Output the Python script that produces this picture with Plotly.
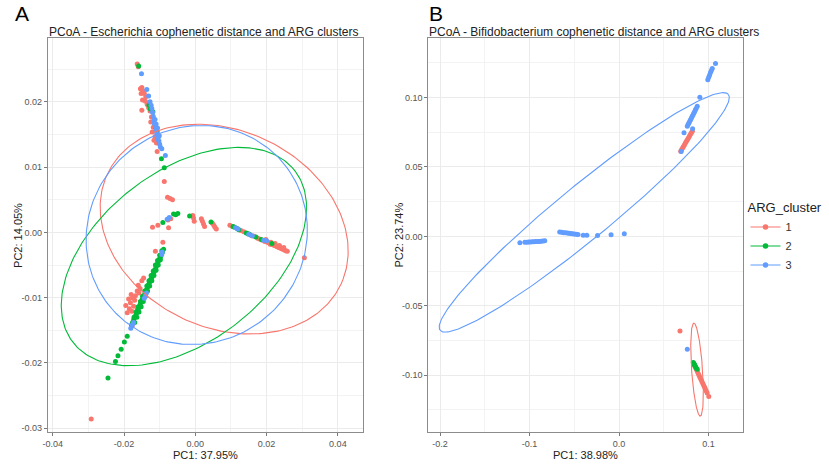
import numpy as np
import plotly.graph_objects as go

W, H = 829, 465
RED, GREEN, BLUE = "#F8766D", "#00BA38", "#619CFF"
FONT = "Liberation Sans, Arial, sans-serif"

# ---------------- Panel A: Escherichia ----------------
a_red_x = [-0.0163, -0.0160, -0.0154, -0.0150, -0.0147, -0.0152, -0.0143, -0.0139, -0.0148, -0.0140,
           -0.0150, -0.0135, -0.0131, -0.0127, -0.0123, -0.0125, -0.0118, -0.0121, -0.0113, -0.0116,
           -0.0109, -0.0107, -0.0087, -0.0078, -0.0071, -0.0064,
           -0.0120, -0.0105, -0.0075, -0.0077, -0.0069, -0.0091, -0.0112, -0.0007, -0.0005, -0.0003,
           0.0017, 0.0020, 0.0023, 0.0026, 0.0048, 0.0052, 0.0055, 0.0059, 0.0097,
           0.0104, 0.0128, 0.0136, 0.0158, 0.0165, 0.0175, 0.0180, 0.0188, 0.0195, 0.0202,
           0.0206, 0.0210, 0.0214, 0.0218, 0.0222, 0.0226, 0.0230, 0.0234, 0.0238, 0.0242,
           0.0246, 0.0250, 0.0254, 0.0258, 0.0212, 0.0224, 0.0236, 0.0248, 0.0198, 0.0306,
           -0.0150, -0.0163, -0.0168, -0.0187, -0.0173, -0.0163, -0.0191, -0.0180, -0.0176, -0.0182,
           -0.0170, -0.0158, -0.0155, -0.0160, -0.0185, -0.0178, -0.0195, -0.0177, -0.0145, -0.0292]
a_red_y = [0.0258, 0.0254, 0.0220, 0.0222, 0.0217, 0.0213, 0.0213, 0.0208, 0.0203, 0.0201,
           0.0187, 0.0196, 0.0191, 0.0186, 0.0177, 0.0169, 0.0161, 0.0154, 0.0147, 0.0141,
           0.0137, 0.0124, 0.0078, 0.0054, 0.0052, 0.0050,
           0.0008, 0.0011, 0.0007, 0.0019, 0.0021, -0.0015, -0.0029, 0.0026, 0.0022, 0.0017,
           0.0021, 0.0017, 0.0013, 0.0009, 0.0014, 0.0011, 0.0008, 0.0005, 0.0011,
           0.0009, 0.0003, 0.0001, -0.0005, -0.0006, -0.0009, -0.0010, -0.0012, -0.0014, -0.0015,
           -0.0016, -0.0018, -0.0018, -0.0019, -0.0020, -0.0021, -0.0022, -0.0023, -0.0024, -0.0025,
           -0.0026, -0.0027, -0.0028, -0.0029, -0.0015, -0.0017, -0.0020, -0.0023, -0.0011, -0.0039,
           -0.0074, -0.0090, -0.0097, -0.0102, -0.0113, -0.0118, -0.0123, -0.0095, -0.0100, -0.0108,
           -0.0104, -0.0093, -0.0086, -0.0081, -0.0117, -0.0121, -0.0112, -0.0143, -0.0070, -0.0286]

a_green_x = [-0.0159, -0.0130, -0.0126, -0.0119, -0.0112, -0.0107, -0.0095, -0.0087,
             -0.0061, -0.0055, -0.0049, -0.0091, -0.0016, 0.0044,
             0.0106, 0.0110, 0.0117, 0.0122, 0.0143, 0.0148, 0.0152, 0.0170, 0.0185, 0.0215,
             -0.0089, -0.0092, -0.0095, -0.0098, -0.0101, -0.0104, -0.0107, -0.0110, -0.0113, -0.0116,
             -0.0119, -0.0122, -0.0125, -0.0128, -0.0131, -0.0134, -0.0137, -0.0140, -0.0143, -0.0146,
             -0.0149, -0.0152, -0.0155, -0.0158, -0.0161, -0.0164, -0.0167, -0.0170, -0.0173, -0.0176,
             -0.0179,
             -0.0094, -0.0100, -0.0106, -0.0112, -0.0118, -0.0124, -0.0130, -0.0136, -0.0142, -0.0148,
             -0.0154, -0.0160, -0.0166, -0.0172,
             -0.0098, -0.0104, -0.0110, -0.0116, -0.0122, -0.0128, -0.0134, -0.0140, -0.0146, -0.0152,
             -0.0158, -0.0164, -0.0170,
             -0.0191, -0.0199, -0.0208, -0.0217, -0.0224, -0.0245]
a_green_y = [0.0255, 0.0195, 0.0189, 0.0185, 0.0162, 0.0154, 0.0113, 0.0099,
             0.0028, 0.0027, 0.0029, 0.0015, 0.0025, 0.0016,
             0.0009, 0.0008, 0.0006, 0.0004, -0.0001, -0.0002, -0.0003, -0.0007, -0.0011, -0.0017,
             -0.0026, -0.0030, -0.0034, -0.0038, -0.0041, -0.0045, -0.0049, -0.0053, -0.0057, -0.0061,
             -0.0065, -0.0069, -0.0072, -0.0076, -0.0080, -0.0084, -0.0088, -0.0092, -0.0096, -0.0100,
             -0.0103, -0.0107, -0.0111, -0.0115, -0.0119, -0.0123, -0.0127, -0.0130, -0.0134, -0.0138,
             -0.0142,
             -0.0028, -0.0035, -0.0043, -0.0050, -0.0059, -0.0066, -0.0074, -0.0082, -0.0090, -0.0098,
             -0.0106, -0.0114, -0.0122, -0.0130,
             -0.0042, -0.0050, -0.0058, -0.0066, -0.0074, -0.0082, -0.0090, -0.0098, -0.0106, -0.0114,
             -0.0122, -0.0130, -0.0138,
             -0.0159, -0.0168, -0.0179, -0.0189, -0.0198, -0.0223]

a_blue_x = [-0.0151, -0.0136, -0.0131, -0.0127, -0.0124, -0.0122, -0.0120, -0.0118, -0.0116, -0.0115,
            -0.0112, -0.0110, -0.0108, -0.0104, -0.0102, -0.0100, -0.0098, -0.0094, -0.0084, -0.0113,
            -0.0110, -0.0106, -0.0105, -0.0101,
            -0.0079, -0.0073,
            0.0113, 0.0120, 0.0150, 0.0160, 0.0192, 0.0200,
            -0.0094, -0.0093, -0.0140, -0.0137, -0.0143, -0.0173, -0.0176, -0.0181]
a_blue_y = [0.0243, 0.0219, 0.0209, 0.0200, 0.0195, 0.0190, 0.0184, 0.0178, 0.0172, 0.0167,
            0.0162, 0.0157, 0.0152, 0.0146, 0.0140, 0.0135, 0.0131, 0.0128, 0.0118, 0.0173,
            0.0166, 0.0160, 0.0143, 0.0148,
            0.0020, 0.0023,
            0.0007, 0.0005, -0.0003, -0.0005, -0.0012, -0.0013,
            -0.0034, -0.0030, -0.0097, -0.0093, -0.0101, -0.0138, -0.0141, -0.0147]

# 95% ellipses per cluster: centre and two conjugate semi-axis vectors (PC1, PC2)
a_ell_center = {"1": (0.0081, 0.0005), "2": (-0.0032, -0.0037), "3": (0.0004, -0.0004)}
a_ell_u = {"1": (0.0328, -0.0084), "2": (0.0312, 0.0131), "3": (0.0261, 0.0097)}
a_ell_v = {"1": (-0.0116, -0.0137), "2": (0.0145, -0.0104), "3": (0.0168, -0.0137)}

# ---------------- Panel B: Bifidobacterium ----------------
b_red_x = [0.0689, 0.0700, 0.0710, 0.0720, 0.0730, 0.0740, 0.0750, 0.0760, 0.0770, 0.0780,
           0.0790, 0.0800, 0.0810, 0.0819,
           0.0681, 0.0837, 0.0845, 0.0855, 0.0865, 0.0875, 0.0885, 0.0895, 0.0905, 0.0915,
           0.0925, 0.0935, 0.0945, 0.0955, 0.0965, 0.0975, 0.0985, 0.1003]
b_red_y = [0.0614, 0.0626, 0.0637, 0.0648, 0.0659, 0.0671, 0.0682, 0.0693, 0.0704, 0.0715,
           0.0726, 0.0737, 0.0748, 0.0758,
           -0.0681, -0.0921, -0.0932, -0.0946, -0.0960, -0.0974, -0.0988, -0.1002, -0.1016, -0.1030,
           -0.1044, -0.1058, -0.1072, -0.1086, -0.1100, -0.1114, -0.1128, -0.1153]

b_green_x = [0.0830, 0.0836, 0.0842, 0.0848, 0.0856, 0.0864, 0.0874]
b_green_y = [-0.0909, -0.0916, -0.0924, -0.0932, -0.0940, -0.0950, -0.0957]

b_blue_x = [-0.1108, -0.1052, -0.1030, -0.1010, -0.0990, -0.0970, -0.0950, -0.0930, -0.0910, -0.0890,
            -0.0870, -0.0850, -0.0830,
            -0.0663, -0.0640, -0.0620, -0.0600, -0.0580, -0.0560, -0.0540, -0.0520, -0.0500, -0.0480,
            -0.0459, -0.0400, -0.0360, -0.0240, -0.0089, 0.0059,
            0.0763, 0.0772, 0.0781, 0.0790, 0.0799, 0.0808, 0.0817, 0.0826, 0.0835, 0.0844,
            0.0853, 0.0862, 0.0874, 0.0903, 0.0726, 0.0822, 0.0695,
            0.0992, 0.1002, 0.1012, 0.1022, 0.1032, 0.1042, 0.1078,
            0.0763]
b_blue_y = [-0.0045, -0.0043, -0.0042, -0.0041, -0.0040, -0.0039, -0.0038, -0.0037, -0.0036, -0.0036,
            -0.0035, -0.0034, -0.0032,
            0.0031, 0.0029, 0.0027, 0.0026, 0.0024, 0.0022, 0.0020, 0.0019, 0.0017, 0.0016,
            0.0014, 0.0009, 0.0009, 0.0007, 0.0012, 0.0019,
            0.0794, 0.0806, 0.0817, 0.0829, 0.0840, 0.0852, 0.0864, 0.0875, 0.0887, 0.0898,
            0.0910, 0.0921, 0.0937, 0.1002, 0.0746, 0.0775, 0.0612,
            0.1129, 0.1146, 0.1163, 0.1180, 0.1195, 0.1210, 0.1245,
            -0.0813]

b_ell_center = {"1": (0.0872, -0.0960), "3": (-0.0389, 0.0173)}
b_ell_u = {"1": (-0.0036, 0.0335), "3": (0.161, 0.0850)}
b_ell_v = {"1": (0.0061, 0.0003), "3": (0.0188, -0.0149)}

# axis ticks
a_xticks = [-0.04, -0.02, 0.0, 0.02, 0.04]
a_xlabels = ["-0.04", "-0.02", "0.00", "0.02", "0.04"]
a_yticks = [-0.03, -0.02, -0.01, 0.0, 0.01, 0.02]
a_ylabels = ["-0.03", "-0.02", "-0.01", "0.00", "0.01", "0.02"]
b_xticks = [-0.2, -0.1, 0.0, 0.1]
b_xlabels = ["-0.2", "-0.1", "0.0", "0.1"]
b_yticks = [-0.10, -0.05, 0.0, 0.05, 0.10]
b_ylabels = ["-0.10", "-0.05", "0.00", "0.05", "0.10"]

colors = {"1": RED, "2": GREEN, "3": BLUE}


def ellipse(center, u, v, n=241):
    t = np.linspace(0, 2 * np.pi, n)
    x = center[0] + u[0] * np.cos(t) + v[0] * np.sin(t)
    y = center[1] + u[1] * np.cos(t) + v[1] * np.sin(t)
    return x, y


fig = go.Figure()

panel_a = {"1": (a_red_x, a_red_y), "2": (a_green_x, a_green_y), "3": (a_blue_x, a_blue_y)}
panel_b = {"1": (b_red_x, b_red_y), "2": (b_green_x, b_green_y), "3": (b_blue_x, b_blue_y)}

for panel, (xa, ya), centers, us, vs in [
    (panel_a, ("x", "y"), a_ell_center, a_ell_u, a_ell_v),
    (panel_b, ("x2", "y2"), b_ell_center, b_ell_u, b_ell_v),
]:
    for k in ["1", "2", "3"]:
        px_, py_ = panel[k]
        fig.add_trace(go.Scatter(x=px_, y=py_, mode="markers", xaxis=xa, yaxis=ya,
                                 marker=dict(color=colors[k], size=5, line=dict(width=0)),
                                 showlegend=False, hoverinfo="skip"))
    for k in ["1", "2", "3"]:
        if k in centers:
            ex, ey = ellipse(centers[k], us[k], vs[k])
            fig.add_trace(go.Scatter(x=ex, y=ey, mode="lines", xaxis=xa, yaxis=ya,
                                     line=dict(color=colors[k], width=1.1),
                                     showlegend=False, hoverinfo="skip"))

# legend entries (point + line key)
for k in ["1", "2", "3"]:
    fig.add_trace(go.Scatter(x=[None], y=[None], mode="lines+markers", name=k,
                             xaxis="x2", yaxis="y2",
                             line=dict(color=colors[k], width=1.1),
                             marker=dict(color=colors[k], size=5.5)))

A_X = [43 / W, 360 / W]
B_X = [426 / W, 742 / W]
P_Y = [1 - 433 / H, 1 - 38 / H]

axis_common = dict(showline=True, mirror=True, linecolor="#8c8c8c", linewidth=1,
                   ticks="outside", ticklen=3, tickcolor="#7a7a7a", tickwidth=1,
                   tickfont=dict(family=FONT, size=9, color="#555555"),
                   showgrid=True, gridcolor="#ebebeb", gridwidth=1, zeroline=False,
                   tickmode="array")

fig.update_layout(
    width=W, height=H, margin=dict(l=0, r=0, t=0, b=0),
    paper_bgcolor="white", plot_bgcolor="white",
    font=dict(family=FONT),
    xaxis=dict(domain=A_X, range=[-0.0414, 0.047], anchor="y", tickvals=a_xticks, ticktext=a_xlabels,
               minor=dict(tickmode="array", tickvals=[-0.03, -0.01, 0.01, 0.03], showgrid=True,
                          gridcolor="#f3f3f3", ticks=""),
               **axis_common),
    yaxis=dict(domain=P_Y, range=[-0.0306, 0.0298], anchor="x", tickvals=a_yticks, ticktext=a_ylabels,
               minor=dict(tickmode="array", tickvals=[-0.025, -0.015, -0.005, 0.005, 0.015, 0.025],
                          showgrid=True, gridcolor="#f3f3f3", ticks=""),
               **axis_common),
    xaxis2=dict(domain=B_X, range=[-0.213, 0.138], anchor="y2", tickvals=b_xticks, ticktext=b_xlabels,
                minor=dict(tickmode="array", tickvals=[-0.15, -0.05, 0.05], showgrid=True,
                           gridcolor="#f3f3f3", ticks=""),
                **axis_common),
    yaxis2=dict(domain=P_Y, range=[-0.141, 0.143], anchor="x2", tickvals=b_yticks, ticktext=b_ylabels,
                minor=dict(tickmode="array", tickvals=[-0.125, -0.075, -0.025, 0.025, 0.075, 0.125],
                           showgrid=True, gridcolor="#f3f3f3", ticks=""),
                **axis_common),
    legend=dict(x=745 / W, y=1 - 196 / H, xanchor="left", yanchor="top",
                title=dict(text="ARG_cluster", font=dict(family=FONT, size=13, color="#222222")),
                font=dict(family=FONT, size=11, color="#333333"),
                bgcolor="rgba(0,0,0,0)", itemwidth=30),
)


def ann(text, xpx, ypx, size, color="#222222", xanchor="center", angle=0):
    fig.add_annotation(text=text, x=xpx / W, y=1 - ypx / H, xref="paper", yref="paper",
                       showarrow=False, xanchor=xanchor, yanchor="middle", textangle=angle,
                       font=dict(family=FONT, size=size, color=color))


ann("A", 8, 14, 21, "#000000", xanchor="left")
ann("B", 425, 14, 21, "#000000", xanchor="left")
ann("PCoA - Escherichia cophenetic distance and ARG clusters", 42, 32, 12, xanchor="left")
ann("PCoA - Bifidobacterium cophenetic distance and ARG clusters", 425, 32, 12, xanchor="left")
ann("PC1: 37.95%", 201.5, 456, 11)
ann("PC1: 38.98%", 584, 456, 11)
ann("PC2: 14.05%", 13, 235.5, 11, angle=-90)
ann("PC2: 23.74%", 396, 235.5, 11, angle=-90)

fig.write_html("out.html")
